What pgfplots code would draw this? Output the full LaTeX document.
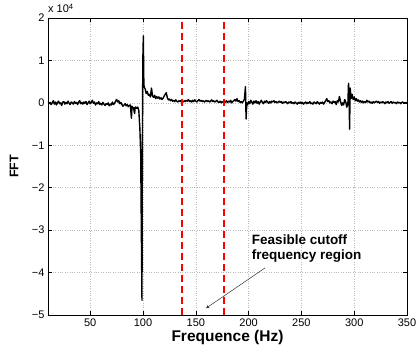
\documentclass[border=0pt]{standalone}
\usepackage{pgfplots}
\pgfplotsset{compat=1.18}
\usepackage{fontspec}
\setmainfont{Liberation Sans}
\begin{document}
\begin{tikzpicture}
\path[use as bounding box] (-48pt,-37pt) rectangle (368pt,315pt);
\begin{axis}[
  at={(0pt,0pt)}, anchor=south west,
  scale only axis, width=359pt, height=297pt,
  xmin=10, xmax=350, ymin=-5, ymax=2,
  xtick={50,100,...,350},
  ytick={-5,-4,...,2},
  yticklabels={−5,−4,−3,−2,−1,0,1,2},
  /pgf/number format/assume math mode=true,
  tick label style={font=\fontsize{11}{13}\selectfont},
  grid=major,
  major grid style={gray!55, dotted, line width=0.6pt},
  major tick length=3.5pt,
  tick style={black, line width=0.5pt},
  axis line style={black, line width=0.7pt},
  xlabel={Frequence (Hz)},
  xlabel style={at={(axis description cs:0.5,0)}, anchor=base, yshift=-27pt, font=\fontsize{15.5}{18}\selectfont\bfseries},
  clip=true,
]
\addplot[black, line width=1.4pt, line join=round] coordinates {
(10,0.03)(11,-0.02)(12,0.01)(13,-0.04)(14,0.00)(15,0.05)(16,-0.03)(17,0.02)(18,-0.05)(19,0.01)
(20,0.04)(21,-0.02)(22,0.00)(23,-0.06)(24,0.02)(25,0.03)(26,-0.03)(27,0.01)(28,-0.02)(29,0.04)
(30,-0.01)(31,-0.04)(32,0.02)(33,0.00)(34,-0.03)(35,0.03)(36,-0.01)(37,0.01)(38,-0.04)(39,0.02)
(40,0.05)(41,-0.02)(42,0.01)(43,-0.03)(44,0.02)(45,-0.01)(46,0.03)(47,-0.04)(48,0.00)(49,0.04)
(50,-0.02)(51,0.01)(52,0.06)(53,-0.01)(54,0.02)(55,-0.05)(56,0.00)(57,-0.02)(58,0.03)(59,-0.04)
(60,-0.01)(61,-0.05)(62,0.01)(63,-0.03)(64,-0.06)(65,-0.02)(66,-0.04)(67,0.00)(68,-0.07)(69,-0.03)
(70,-0.05)(71,0.02)(72,-0.04)(73,-0.01)(74,0.04)(75,0.08)(76,0.02)(77,0.05)(78,-0.02)(79,0.01)
(80,-0.04)(81,-0.08)(82,-0.05)(83,-0.02)(84,-0.07)(85,-0.04)(86,-0.09)(87,-0.06)(88,-0.05)(89,-0.36)
(89.6,-0.08)(90,-0.10)(91,-0.12)(92,-0.25)(92.6,-0.10)(93,-0.10)(94,-0.13)(95,-0.10)(96,-0.18)
(97,-0.6)(97.8,-1.2)(98.4,-3.0)(99,-4.65)(99.4,-1.0)(99.8,1.0)(100.3,1.58)(100.7,0.6)
(101,0.38)(102,0.33)(103,0.22)(104,0.27)(105,0.18)(106,0.20)(107,0.14)(108,0.35)(109,0.16)
(110,0.13)(111,0.18)(112,0.10)(113,0.15)(114,0.11)(115,0.14)(116,0.09)(117,0.12)(118,0.08)(119,0.11)
(120,0.16)(121,0.20)(122,0.24)(123,0.12)(124,0.07)(125,0.09)(126,0.05)(127,0.08)(128,0.04)(129,0.06)
(130,0.03)(131,0.07)(132,0.04)(133,0.02)(134,0.05)(135,0.03)(136,0.06)(137,0.04)(138,0.02)(139,0.05)
(140,0.03)(141,0.06)(142,0.04)(143,0.08)(144,0.03)(145,0.05)(146,0.02)(147,0.06)(148,0.03)(149,0.07)
(150,0.04)(151,0.02)(152,0.05)(153,0.08)(154,0.04)(155,0.06)(156,0.03)(157,0.05)(158,0.02)(159,0.04)
(160,0.06)(161,0.03)(162,0.05)(163,0.02)(164,0.04)(165,0.07)(166,0.03)(167,0.05)(168,0.02)(169,0.04)
(170,0.06)(171,0.02)(172,0.01)(173,0.04)(174,0.00)(175,0.03)(176,0.01)(177,-0.01)(178,0.02)(179,0.05)
(180,0.01)(181,0.04)(182,0.02)(183,0.06)(184,0.00)(185,0.03)(186,0.05)(187,0.08)(188,0.04)(189,0.10)
(190,0.03)(191,0.05)(192,0.01)(193,0.03)(194,0.00)(195,0.04)(196,0.08)(197,0.38)(197.6,-0.38)(198.3,0.00)
(199,-0.05)(200,0.03)(201,-0.02)(202,0.06)(203,0.02)(204,-0.03)(205,0.04)(206,0.00)(207,0.05)(208,-0.01)
(209,0.03)(210,-0.03)(211,0.02)(212,0.06)(213,0.01)(214,-0.02)(215,0.04)(216,0.01)(217,0.05)(218,0.02)
(219,-0.01)(220,0.03)(221,0.00)(222,0.04)(223,0.02)(224,0.05)(225,0.01)(226,0.03)(227,0.00)(228,0.02)
(229,0.04)(230,0.01)(231,0.03)(232,-0.01)(233,0.02)(234,0.00)(235,0.03)(236,0.01)(237,-0.02)(238,0.02)
(239,0.00)(240,0.03)(241,-0.01)(242,0.01)(243,-0.02)(244,0.02)(245,0.00)(246,-0.03)(247,0.01)(248,-0.01)
(249,0.02)(250,-0.02)(251,0.01)(252,-0.03)(253,0.00)(254,0.02)(255,-0.02)(256,0.01)(257,-0.01)(258,0.03)
(259,-0.02)(260,0.00)(261,-0.03)(262,0.02)(263,0.00)(264,-0.02)(265,0.03)(266,0.00)(267,-0.03)(268,0.01)
(269,-0.01)(270,0.02)(271,-0.03)(272,0.01)(273,0.05)(274,0.10)(275,0.03)(276,0.05)(277,0.00)(278,0.02)
(279,-0.02)(280,0.04)(281,0.01)(282,0.03)(283,-0.04)(284,0.05)(285,0.02)(286,0.15)(287,0.04)(288,-0.06)
(289,0.00)(290,-0.05)(291,0.08)(292,0.02)(293,-0.10)(294,-0.04)(294.6,0.46)(295.2,0.20)(295.6,-0.62)(296.2,0.35)
(297,0.10)(298,0.20)(299,0.08)(300,0.14)(301,0.05)(302,0.10)(303,0.04)(304,0.07)(305,0.02)(306,0.05)
(307,0.01)(308,0.04)(309,0.00)(310,0.03)(311,0.01)(312,0.06)(313,0.02)(314,0.04)(315,0.00)(316,0.02)
(317,-0.01)(318,0.03)(319,0.00)(320,0.02)(321,0.04)(322,0.01)(323,0.03)(324,-0.01)(325,0.02)(326,0.00)
(327,0.03)(328,0.01)(329,-0.02)(330,0.02)(331,0.00)(332,0.03)(333,-0.01)(334,0.01)(335,0.03)(336,-0.01)
(337,0.02)(338,0.00)(339,0.01)(340,-0.02)(341,0.02)(342,0.00)(343,0.01)(344,-0.02)(345,0.01)(346,0.02)
(347,-0.01)(348,0.01)(349,0.00)(350,0.01)
};
\addplot[red, line width=1.8pt, dash pattern=on 7pt off 4pt] coordinates {(137,-5)(137,2)};
\addplot[red, line width=1.8pt, dash pattern=on 7pt off 4pt] coordinates {(177,-5)(177,2)};
\draw[-stealth, line width=0.5pt, black!80] (axis cs:215.6,-3.89) -- (axis cs:159.7,-4.84);
\node[anchor=north west, align=left, inner sep=0pt, font=\fontsize{13.5}{14.8}\selectfont\bfseries] at (axis cs:203,-3.1) {Feasible cutoff\\frequency region};
\end{axis}
\node[anchor=center, rotate=90, inner sep=0pt, font=\fontsize{12.5}{15}\selectfont\bfseries] at (-34pt,148.5pt) {FFT};
\node[anchor=base west, inner sep=0pt, font=\fontsize{11}{13}\selectfont] at (0pt,302pt) {x 10\textsuperscript{4}};
\end{tikzpicture}
\end{document}
